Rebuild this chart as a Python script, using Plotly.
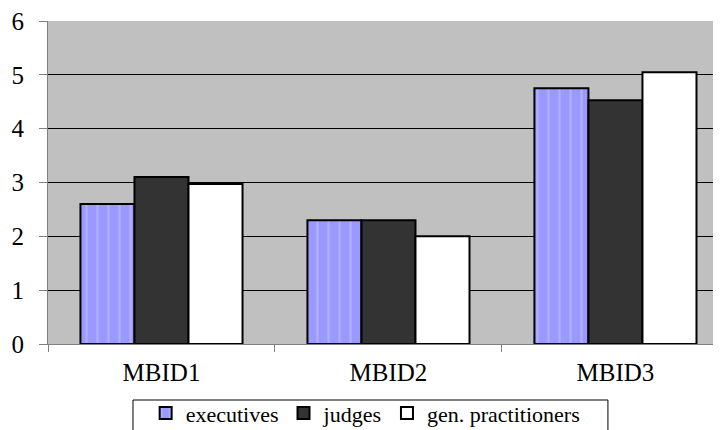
import plotly.graph_objects as go

categories = ["MBID1", "MBID2", "MBID3"]
series_names = ["executives", "judges", "gen. practitioners"]
executives = [2.6, 2.3, 4.75]
judges = [3.1, 2.3, 4.53]
gen_practitioners = [2.97, 2.0, 5.05]
y_ticks = [0, 1, 2, 3, 4, 5, 6]

font_family = "Times New Roman"

fig = go.Figure()
fig.add_trace(go.Bar(
    name=series_names[0], x=categories, y=executives,
    marker=dict(color="#9999ff", line=dict(color="black", width=2),
                pattern=dict(shape="|", fgcolor="#c8c8ff", bgcolor="#9999ff",
                             size=11, solidity=0.2)),
))
fig.add_trace(go.Bar(
    name=series_names[1], x=categories, y=judges,
    marker=dict(color="#333333", line=dict(color="black", width=2)),
))
fig.add_trace(go.Bar(
    name=series_names[2], x=categories, y=gen_practitioners,
    marker=dict(color="#ffffff", line=dict(color="black", width=2)),
))

fig.update_layout(
    width=713, height=422,
    margin=dict(l=40, r=0, t=13, b=86, autoexpand=False),
    paper_bgcolor="white",
    plot_bgcolor="#c0c0c0",
    barmode="group",
    bargap=0.286,
    bargroupgap=0,
    font=dict(family=font_family, size=25, color="black"),
    showlegend=True,
    legend=dict(
        orientation="h",
        x=0.472, xanchor="center",
        y=-0.149, yanchor="top",
        borderwidth=0,
        bgcolor="rgba(0,0,0,0)",
        font=dict(family=font_family, size=22, color="black"),
        itemwidth=30,
        traceorder="normal",
    ),
    shapes=[dict(
        type="rect", xref="paper", yref="paper",
        x0=0.1263, x1=0.832, y0=-0.32, y1=-0.1734,
        line=dict(color="black", width=1), fillcolor="rgba(0,0,0,0)",
        layer="below",
    )],
)
fig.update_xaxes(
    range=[-0.5, 2.465],
    showgrid=False, automargin=False,
    showline=True, linecolor="#808080", linewidth=1,
    ticks="outside", tickson="boundaries", ticklen=7, tickcolor="#808080",
    ticklabelstandoff=6, ticklabeloverflow="allow",
    tickfont=dict(family=font_family, size=25, color="black"),
)
fig.update_yaxes(
    range=[0, 6],
    tickvals=y_ticks, automargin=False,
    showgrid=True, gridcolor="black", gridwidth=1,
    showline=True, linecolor="#808080", linewidth=1,
    ticks="outside", ticklen=8, tickcolor="#808080",
    ticklabelstandoff=10, ticklabeloverflow="allow",
    tickfont=dict(family=font_family, size=25, color="black"),
    zeroline=False,
)

fig.write_html("out.html")
